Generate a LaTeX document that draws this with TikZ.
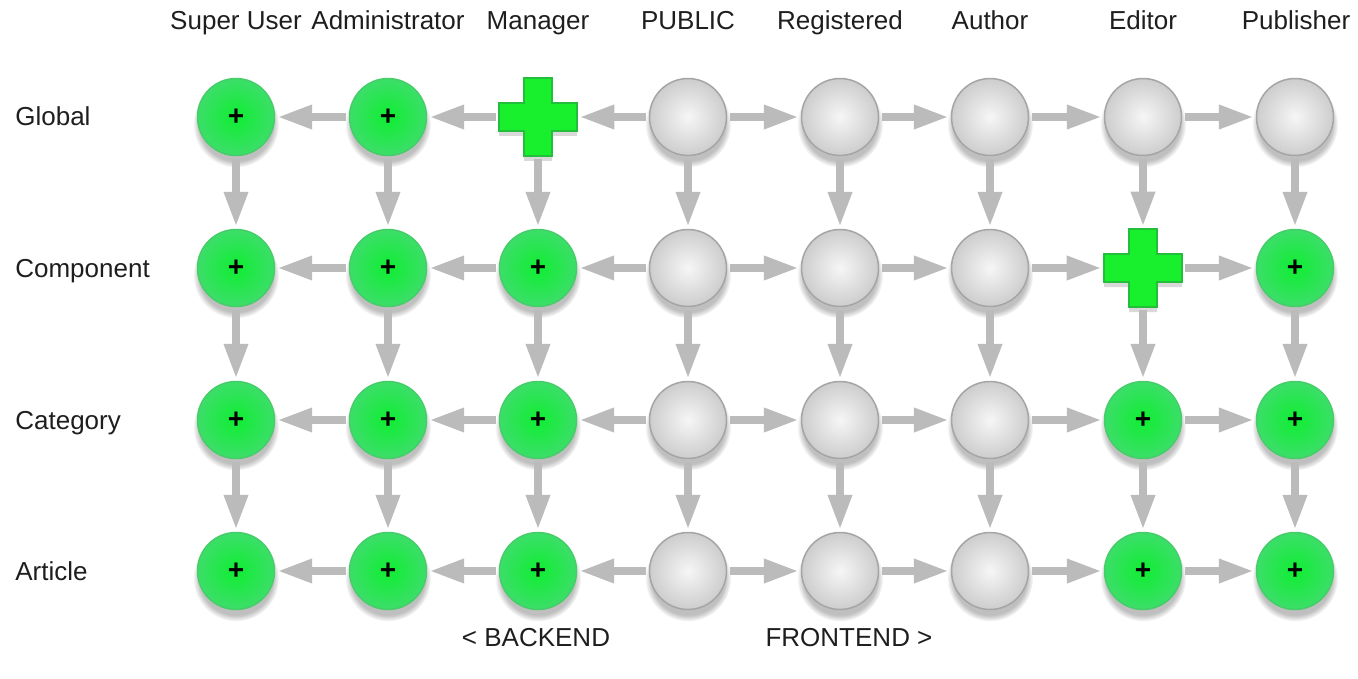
\documentclass[tikz,border=0pt]{standalone}
\usepackage{fontspec}
\setmainfont{Liberation Sans}
\usetikzlibrary{arrows.meta,shadows}
\definecolor{arrg}{RGB}{187,187,187}
\definecolor{gin}{RGB}{15,238,50}
\definecolor{gout}{RGB}{60,222,105}
\definecolor{gedge}{RGB}{70,205,105}
\definecolor{cin}{RGB}{25,240,45}
\definecolor{cedge}{RGB}{35,190,60}
\definecolor{win}{RGB}{246,246,246}
\definecolor{wout}{RGB}{205,205,205}
\definecolor{wedge}{RGB}{165,165,165}
\definecolor{txt}{RGB}{30,30,30}

% big green cross drawn over a named box node
\newcommand{\bigplus}[1]{\path[crs] (#1.center) ++(-14,-39) -- ++(28,0) -- ++(0,25) -- ++(25,0) -- ++(0,28) -- ++(-25,0) -- ++(0,25) -- ++(-28,0) -- ++(0,-25) -- ++(-25,0) -- ++(0,-28) -- ++(25,0) -- cycle;}

\begin{document}
\begin{tikzpicture}[x=0.02cm,y=-0.02cm,
    font=\fontsize{14.8}{17}\selectfont,text=txt,
    hdr/.style={anchor=base,inner sep=0},
    lbl/.style={anchor=base west,inner sep=0},
    yes/.style={circle,minimum size=1.54cm,inner sep=0,inner color=gin,outer color=gout,draw=gedge,line width=0.3mm,
        circular drop shadow={shadow xshift=0pt,shadow yshift=-1.3mm,shadow scale=1.12,opacity=0.5},
        font=\fontsize{16}{16}\bfseries,text=black},
    no/.style={circle,minimum size=1.54cm,inner sep=0,inner color=win,outer color=wout,draw=wedge,line width=0.3mm,
        circular drop shadow={shadow xshift=0pt,shadow yshift=-1.3mm,shadow scale=1.12,opacity=0.5}},
    crsbox/.style={rectangle,minimum size=1.56cm,inner sep=0},
    crs/.style={fill=cin,draw=cedge,line width=0.3mm,drop shadow={shadow xshift=0pt,shadow yshift=-1mm,opacity=0.3}},
    arr/.style={-{Triangle[length=7mm,width=4.5mm]},line width=1.6mm,draw=arrg,shorten <=0.6mm,shorten >=0.4mm},
]
\useasboundingbox (0,0) rectangle (1358,679);

\node[hdr] (h1) at (236,30) {Super User};
\node[hdr] (h2) at (388,30) {Administrator};
\node[hdr] (h3) at (538,30) {Manager};
\node[hdr] (h4) at (688,30) {PUBLIC};
\node[hdr] (h5) at (840,30) {Registered};
\node[hdr] (h6) at (990,30) {Author};
\node[hdr] (h7) at (1143,30) {Editor};
\node[hdr] (h8) at (1296,30) {Publisher};

\node[lbl] (r1) at (15,126) {Global};
\node[lbl] (r2) at (15,277) {Component};
\node[lbl] (r3) at (15,429) {Category};
\node[lbl] (r4) at (15,580) {Article};

\node[yes] (gl1) at (236,117) {+}; \node[yes] (gl2) at (388,117) {+}; \node[crsbox] (gl3) at (538,117) {}; \node[no] (gl4) at (688,117) {};
\node[no] (gl5) at (840,117) {}; \node[no] (gl6) at (990,117) {}; \node[no] (gl7) at (1143,117) {}; \node[no] (gl8) at (1295,117) {};
\bigplus{gl3}

\node[yes] (co1) at (236,268) {+}; \node[yes] (co2) at (388,268) {+}; \node[yes] (co3) at (538,268) {+}; \node[no] (co4) at (688,268) {};
\node[no] (co5) at (840,268) {}; \node[no] (co6) at (990,268) {}; \node[crsbox] (co7) at (1143,268) {}; \node[yes] (co8) at (1295,268) {+};
\bigplus{co7}

\node[yes] (ca1) at (236,420) {+}; \node[yes] (ca2) at (388,420) {+}; \node[yes] (ca3) at (538,420) {+}; \node[no] (ca4) at (688,420) {};
\node[no] (ca5) at (840,420) {}; \node[no] (ca6) at (990,420) {}; \node[yes] (ca7) at (1143,420) {+}; \node[yes] (ca8) at (1295,420) {+};

\node[yes] (ar1) at (236,571) {+}; \node[yes] (ar2) at (388,571) {+}; \node[yes] (ar3) at (538,571) {+}; \node[no] (ar4) at (688,571) {};
\node[no] (ar5) at (840,571) {}; \node[no] (ar6) at (990,571) {}; \node[yes] (ar7) at (1143,571) {+}; \node[yes] (ar8) at (1295,571) {+};

% backend to the left, frontend to the right
\draw[arr] (gl4) -- (gl3); \draw[arr] (gl3) -- (gl2); \draw[arr] (gl2) -- (gl1); \draw[arr] (gl4) -- (gl5); \draw[arr] (gl5) -- (gl6); \draw[arr] (gl6) -- (gl7); \draw[arr] (gl7) -- (gl8);
\draw[arr] (co4) -- (co3); \draw[arr] (co3) -- (co2); \draw[arr] (co2) -- (co1); \draw[arr] (co4) -- (co5); \draw[arr] (co5) -- (co6); \draw[arr] (co6) -- (co7); \draw[arr] (co7) -- (co8);
\draw[arr] (ca4) -- (ca3); \draw[arr] (ca3) -- (ca2); \draw[arr] (ca2) -- (ca1); \draw[arr] (ca4) -- (ca5); \draw[arr] (ca5) -- (ca6); \draw[arr] (ca6) -- (ca7); \draw[arr] (ca7) -- (ca8);
\draw[arr] (ar4) -- (ar3); \draw[arr] (ar3) -- (ar2); \draw[arr] (ar2) -- (ar1); \draw[arr] (ar4) -- (ar5); \draw[arr] (ar5) -- (ar6); \draw[arr] (ar6) -- (ar7); \draw[arr] (ar7) -- (ar8);

% down the levels
\draw[arr] (gl1) -- (co1); \draw[arr] (gl2) -- (co2); \draw[arr] (gl3) -- (co3); \draw[arr] (gl4) -- (co4); \draw[arr] (gl5) -- (co5); \draw[arr] (gl6) -- (co6); \draw[arr] (gl7) -- (co7); \draw[arr] (gl8) -- (co8);
\draw[arr] (co1) -- (ca1); \draw[arr] (co2) -- (ca2); \draw[arr] (co3) -- (ca3); \draw[arr] (co4) -- (ca4); \draw[arr] (co5) -- (ca5); \draw[arr] (co6) -- (ca6); \draw[arr] (co7) -- (ca7); \draw[arr] (co8) -- (ca8);
\draw[arr] (ca1) -- (ar1); \draw[arr] (ca2) -- (ar2); \draw[arr] (ca3) -- (ar3); \draw[arr] (ca4) -- (ar4); \draw[arr] (ca5) -- (ar5); \draw[arr] (ca6) -- (ar6); \draw[arr] (ca7) -- (ar7); \draw[arr] (ca8) -- (ar8);

\node[hdr] (bk) at (536,646) {< BACKEND};
\node[hdr] (fr) at (849,646) {FRONTEND >};
\end{tikzpicture}
\end{document}
